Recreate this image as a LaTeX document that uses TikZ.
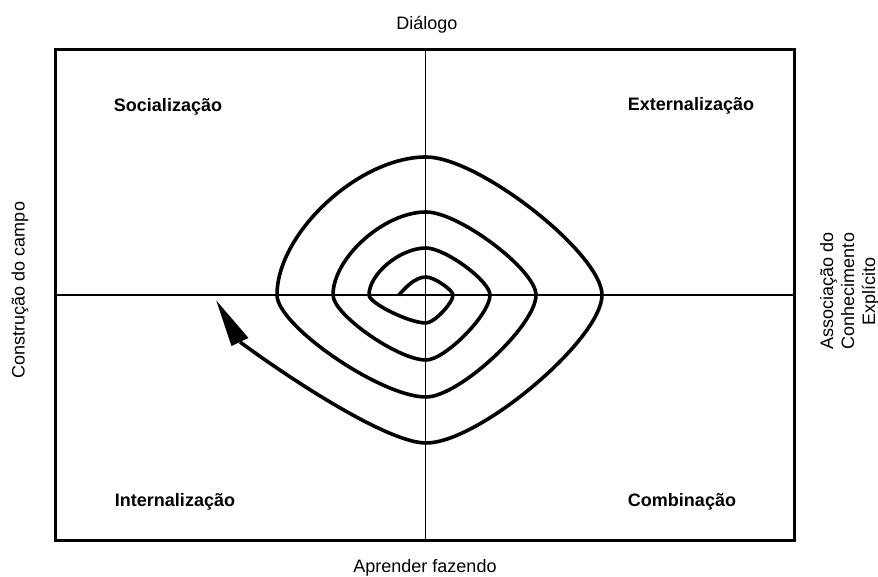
\documentclass[tikz,border=0pt]{standalone}
\usepackage{fontspec}
\setmainfont{Liberation Sans}
\begin{document}
\begin{tikzpicture}[x=1pt,y=-1pt,
  lbl/.style={font=\fontsize{18}{21}\selectfont, inner sep=0pt},
  qlbl/.style={font=\bfseries\fontsize{18}{21}\selectfont, inner sep=0pt, anchor=base},
  frame/.style={line width=3pt},
  axis/.style={line width=1.2pt},
  spiral/.style={line width=3.6pt, line join=round}]
\useasboundingbox (0,0) rectangle (878,577);
% frame
\coordinate (tl) at (55.7,50);
\coordinate (br) at (794.3,540.7);
\draw[frame] (tl) rectangle (br);
% axes
\coordinate (vt) at (425.7,50);
\coordinate (vb) at (425.7,540.7);
\coordinate (hl) at (55.7,295);
\coordinate (hr) at (794.3,295);
\draw[axis] (vt) -- (vb);
\draw[axis] (hl) -- (hr);
% labels
\node[lbl, anchor=base] (dial) at (427,30) {Diálogo};
\node[lbl, anchor=base] (apr) at (425,572.5) {Aprender fazendo};
\node[lbl, rotate=90] (cons) at (20,290) {Construção do campo};
\node[lbl, rotate=90, align=center] (assoc) at (849.5,291) {Associação do\\Conhecimento\\Explícito};
\node[qlbl] (soc) at (168,111.5) {Socialização};
\node[qlbl] (ext) at (691,111) {Externalização};
\node[qlbl] (int) at (175,506.5) {Internalização};
\node[qlbl] (comb) at (682,506) {Combinação};
% spiral
\coordinate (p0) at (399,295);
\coordinate (e) at (240,342);
\draw[spiral] (p0)
  .. controls (405,288) and (415,277) .. (426,277)
  .. controls (434,277) and (453,290) .. (453,295)
  .. controls (453,303) and (434,323) .. (426,323)
  .. controls (409,323) and (369,303) .. (369,295)
  .. controls (369,274) and (400,248) .. (426,248)
  .. controls (445,248) and (490,281) .. (490,295)
  .. controls (490,314.5) and (445,360) .. (426,360)
  .. controls (398,360) and (333,314.5) .. (333,295)
  .. controls (333,258) and (384,212) .. (426,212)
  .. controls (459,212) and (536,270) .. (536,295)
  .. controls (536,325.6) and (459,397) .. (426,397)
  .. controls (381,397) and (277,325.6) .. (277,295)
  .. controls (277,233) and (359,157) .. (426,157)
  .. controls (479,157) and (602,254) .. (602,295)
  .. controls (602,339) and (479,443) .. (426,443)
  .. controls (390,443) and (300,386) .. (e);
% arrow head
\coordinate (tip) at (216.3,300.5);
\coordinate (ha) at (231.5,346);
\coordinate (hb) at (248.5,338);
\fill (tip) -- (ha) -- (hb) -- cycle;
\end{tikzpicture}
\end{document}
